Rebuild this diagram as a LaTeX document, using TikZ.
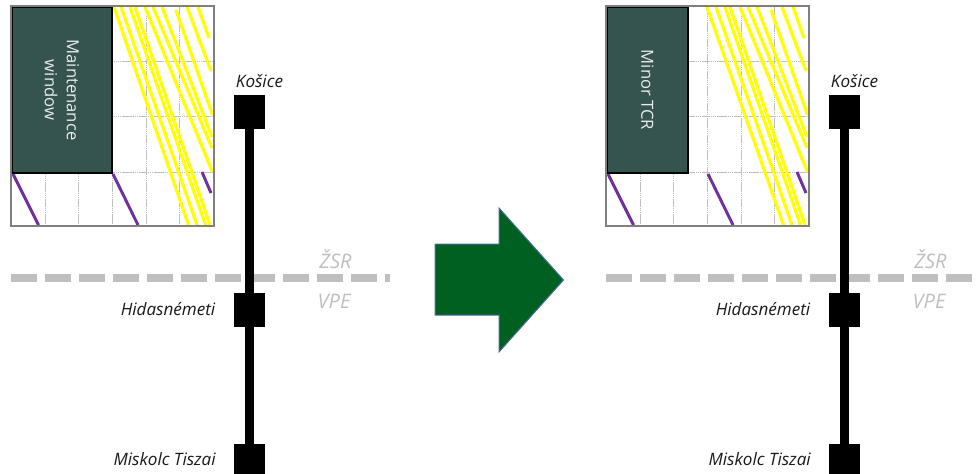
\documentclass[tikz,border=0pt]{standalone}
\usepackage{fontspec}
\setmainfont{Open Sans}
\usetikzlibrary{calc}
\definecolor{gridgrey}{HTML}{BFBFBF}
\definecolor{framegrey}{HTML}{7F7F7F}
\definecolor{trainyellow}{HTML}{FFFF00}
\definecolor{trainpurple}{HTML}{7030A0}
\definecolor{blockgreen}{HTML}{36544F}
\definecolor{blocktext}{HTML}{E8ECEA}
\definecolor{bordergrey}{HTML}{BFBFBF}
\definecolor{labeltext}{HTML}{1A1A1A}
\definecolor{arrowgreen}{HTML}{006022}
\definecolor{arrowedge}{HTML}{4A6D9A}
\tikzset{
  x=0.75pt,y=-0.75pt,
  gridline/.style={draw=gridgrey,line width=0.75pt,dash pattern=on 1.2pt off 0.4pt},
  frameline/.style={draw=framegrey,line width=1.5pt},
  yellowtrain/.style={draw=trainyellow,line width=2.4pt},
  purpletrain/.style={draw=trainpurple,line width=2.2pt},
  blockbox/.style={draw=black,line width=2pt,fill=blockgreen,inner sep=0pt,outer sep=0pt,anchor=north west},
  blocktitle/.style={font=\fontsize{12.5}{16.5}\selectfont,text=blocktext,align=center,rotate=-90,inner sep=0pt},
  station/.style={draw=none,fill=black,minimum width=23.5pt,inner sep=0pt,outer sep=0pt},
  track/.style={draw=black,line width=6.5pt},
  border/.style={draw=bordergrey,line width=6pt,dash pattern=on 19.3pt off 6.2pt},
  stationlabel/.style={font=\fontsize{12.8}{15}\selectfont\itshape,text=labeltext,inner sep=0pt},
  borderlabel/.style={font=\fontsize{15}{16}\selectfont\itshape,text=bordergrey,inner sep=0pt},
  bigarrow/.style={fill=arrowgreen,draw=arrowedge,line width=0.75pt,line join=miter},
}
% #1 offset px, #2 prefix, #3 block width px, #4 block text, #5 first yellow start x, #6 border end x
\newcommand{\panel}[6]{%
\begin{scope}[xshift=#1*0.75pt,name prefix=#2]
  \foreach \gx in {45,78,112,146,179} \draw[gridline] (\gx,7) -- (\gx,225);
  \foreach \gy in {62,117,172} \draw[gridline] (11,\gy) -- (213,\gy);
  \draw[yellowtrain] (#5,7) -- (188.5,225);
  \draw[yellowtrain] (121,7) -- (197,225);
  \draw[yellowtrain] (130,7) -- (205.5,225);
  \draw[yellowtrain] (135,7) -- (210,225);
  \draw[yellowtrain] (145,7) -- (212.5,172);
  \draw[yellowtrain] (153,7) -- (212,148);
  \draw[yellowtrain] (162,7) -- (212,137);
  \draw[yellowtrain] (176,10) -- (212.5,115);
  \draw[yellowtrain] (187,7) -- (211,71);
  \draw[yellowtrain] (198,7) -- (209,38);
  \draw[purpletrain] (13,174) -- (38.5,225);
  \draw[purpletrain] (113,174) -- (138,225);
  \draw[purpletrain] (202,172) -- (211,193);
  \node[blockbox,minimum width=#3*0.75pt,minimum height=124.5pt] (block) at (12,7) {};
  \node[blocktitle] (blocklabel) at ($(block.center)+(0,0)$) {#4};
  \draw[frameline] (10.5,6.5) rectangle (213.5,226);
  \draw[border] (11,278) -- (#6,278);
  \node[station,minimum height=25.5pt] (kosice) at (249.5,112) {};
  \node[station,minimum height=25.5pt] (hidas) at (249.5,310) {};
  \node[station,minimum height=22.5pt] (miskolc) at (249.5,459) {};
  \draw[track] (kosice) -- (hidas);
  \draw[track] (hidas) -- (miskolc);
  \node[stationlabel] (kosicelabel) at (259.5,81.5) {Košice};
  \node[stationlabel,anchor=east] (hidaslabel) at (215.5,309.5) {Hidasnémeti};
  \node[stationlabel,anchor=east] (miskolclabel) at (216,459.5) {Miskolc Tiszai};
  \node[borderlabel] (zsr) at (335.5,259) {ŽSR};
  \node[borderlabel] (vpe) at (334,301) {VPE};
\end{scope}}
\begin{document}
\begin{tikzpicture}
  \clip (0,0) rectangle (977,474);
  \fill[white] (0,0) rectangle (977,474);
  \panel{0}{L}{100}{Maintenance\\window}{114}{390}
  \panel{595}{R}{81}{Minor TCR}{112}{395}
  \draw[bigarrow] (435,244) -- (499,244) -- (499,208) -- (563.5,280) -- (499,352) -- (499,315) -- (435,315) -- cycle;
\end{tikzpicture}
\end{document}
